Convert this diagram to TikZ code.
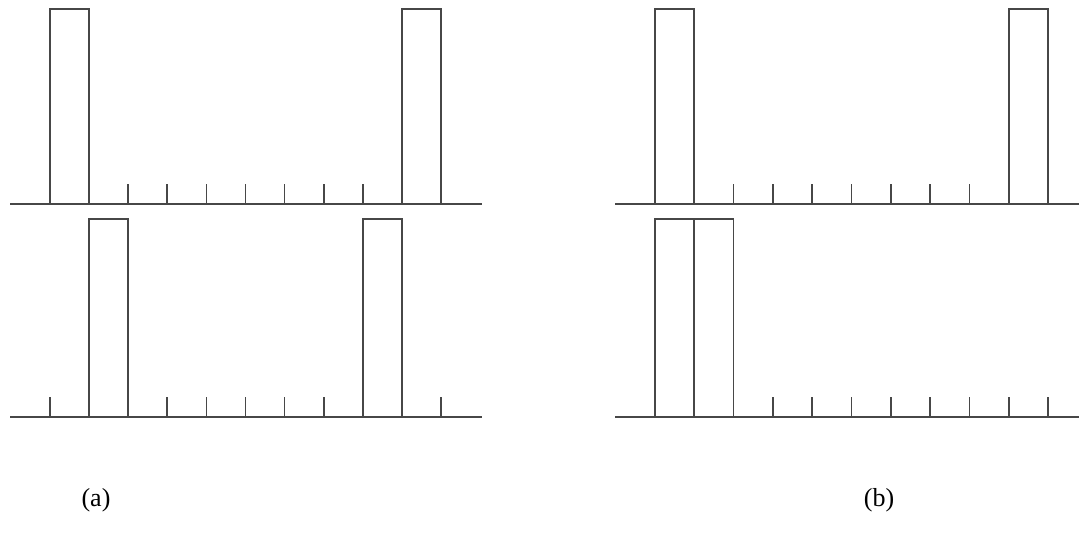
\documentclass[tikz,border=0pt]{standalone}
\usepackage{fontspec}
\setmainfont{Liberation Serif}
\begin{document}
\begin{tikzpicture}[x=1pt,y=-1pt,
  ln/.style={draw=black!72,line width=1.7pt},
  pulse/.style={draw=black!72,line width=1.7pt,line join=miter},
  tick/.style={draw=black!72,line width=1.7pt},
  lab/.style={font=\fontsize{26}{30}\selectfont,inner sep=0pt}]
\useasboundingbox (0,0) rectangle (1079,537);
% ---------- panel (a) ----------
\def\ax{50}\def\ad{39.1}
% top row
\coordinate (aTL) at (10,204);
\coordinate (aTR) at (482,204);
\draw[ln] (aTL) -- (aTR);
\draw[pulse] ({\ax+0*\ad},204) -- ({\ax+0*\ad},9) -- ({\ax+1*\ad},9) -- ({\ax+1*\ad},204);
\draw[pulse] ({\ax+9*\ad},204) -- ({\ax+9*\ad},9) -- ({\ax+10*\ad},9) -- ({\ax+10*\ad},204);
\foreach \k in {2,...,8} \draw[tick] ({\ax+\k*\ad},204) -- ({\ax+\k*\ad},184);
% bottom row
\coordinate (aBL) at (10,417);
\coordinate (aBR) at (482,417);
\draw[ln] (aBL) -- (aBR);
\draw[pulse] ({\ax+1*\ad},417) -- ({\ax+1*\ad},219) -- ({\ax+2*\ad},219) -- ({\ax+2*\ad},417);
\draw[pulse] ({\ax+8*\ad},417) -- ({\ax+8*\ad},219) -- ({\ax+9*\ad},219) -- ({\ax+9*\ad},417);
\foreach \k in {0,3,4,5,6,7,10} \draw[tick] ({\ax+\k*\ad},417) -- ({\ax+\k*\ad},397);
% ---------- panel (b) ----------
\def\bx{655}\def\bd{39.3}
\coordinate (bTL) at (615,204);
\coordinate (bTR) at (1079,204);
\draw[ln] (bTL) -- (bTR);
\draw[pulse] ({\bx+0*\bd},204) -- ({\bx+0*\bd},9) -- ({\bx+1*\bd},9) -- ({\bx+1*\bd},204);
\draw[pulse] ({\bx+9*\bd},204) -- ({\bx+9*\bd},9) -- ({\bx+10*\bd},9) -- ({\bx+10*\bd},204);
\foreach \k in {2,...,8} \draw[tick] ({\bx+\k*\bd},204) -- ({\bx+\k*\bd},184);
\coordinate (bBL) at (615,417);
\coordinate (bBR) at (1079,417);
\draw[ln] (bBL) -- (bBR);
\draw[pulse] ({\bx+0*\bd},417) -- ({\bx+0*\bd},219) -- ({\bx+2*\bd},219) -- ({\bx+2*\bd},417);
\draw[pulse] ({\bx+1*\bd},219) -- ({\bx+1*\bd},417);
\foreach \k in {3,...,10} \draw[tick] ({\bx+\k*\bd},417) -- ({\bx+\k*\bd},397);
% labels
\node[lab] (la) at (96,500) {(a)};
\node[lab] (lb) at (879,500) {(b)};
\end{tikzpicture}
\end{document}
